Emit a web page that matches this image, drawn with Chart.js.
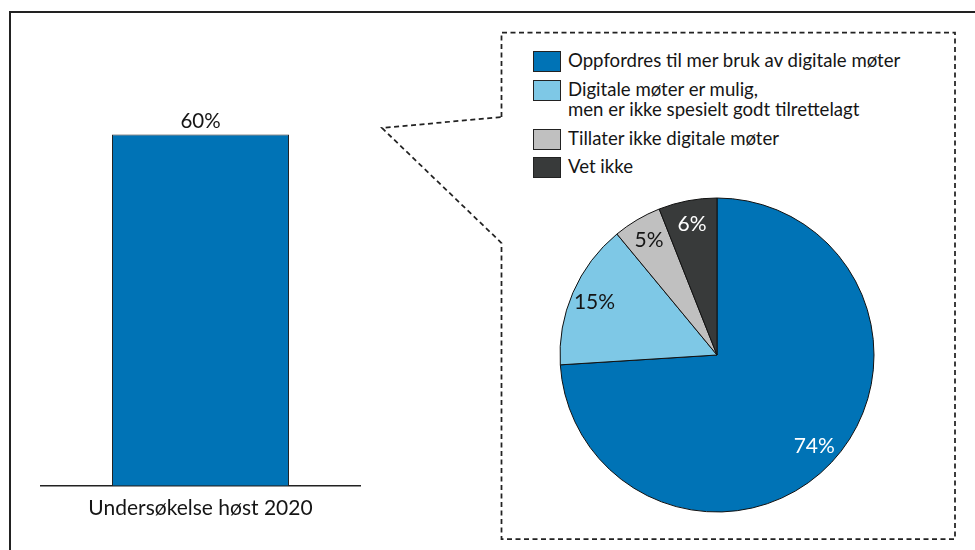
<!DOCTYPE html>
<html>
<head>
<meta charset="utf-8">
<script src="https://cdn.jsdelivr.net/npm/chart.js@4"></script>
<style>
  body { margin: 0; background: #fff; font-family: Lato, sans-serif; }
  #wrap { position: relative; width: 975px; height: 550px; overflow: hidden; }
  #frame { position: absolute; left: 9px; top: 11px; width: 1000px; height: 600px; border: 2px solid #222; }
  #barCanvas { position: absolute; left: 0; top: 0; }
  #pieCanvas { position: absolute; left: 557px; top: 195px; }
  #callout { position: absolute; left: 0; top: 0; }
  .leg { position: absolute; left: 533px; font-size: 18.6px; color: #151515; line-height: 20px; }
  .leg .sw { position: absolute; left: 0; width: 26px; height: 19px; border: 1.5px solid #222; }
  .leg .tx { position: absolute; left: 35px; white-space: nowrap; }
</style>
</head>
<body>
<div id="wrap">
  <div id="frame"></div>
  <svg id="callout" width="975" height="550">
    <path d="M501.5,117 L501.5,32.5 L955,32.5 L955,539 L501.5,539 L501.5,243 L382,128 L501.5,117"
          fill="none" stroke="#222" stroke-width="1.75" stroke-dasharray="5,3.5"/>
  </svg>
  <canvas id="barCanvas" width="400" height="550"></canvas>
  <canvas id="pieCanvas" width="320" height="320"></canvas>
  <div id="legend"></div>
</div>
<script>
// data
const barCategories = ["Undersøkelse høst 2020"];
const barValues = [60];

const pieLabels = [
  ["Oppfordres til mer bruk av digitale møter"],
  ["Digitale møter er mulig,", "men er ikke spesielt godt tilrettelagt"],
  ["Tillater ikke digitale møter"],
  ["Vet ikke"]
];
const pieValues = [74, 15, 5, 6];
const pieColors = ["#0073b6", "#7ec8e6", "#c0c0c0", "#383a3a"];
const pieLabelColors = ["#ffffff", "#151515", "#151515", "#ffffff"];

// legend rows (top of swatch)
const legendTops = [51, 80, 129, 157];

const legend = document.getElementById("legend");
pieLabels.forEach((lines, i) => {
  const row = document.createElement("div");
  row.className = "leg";
  row.style.top = legendTops[i] + "px";
  row.innerHTML = `<div class="sw" style="background:${pieColors[i]}"></div>` +
    `<div class="tx" style="top:-1px">${lines.join("<br>")}</div>`;
  legend.appendChild(row);
});

// Etikett over søylen
const barValuePlugin = {
  id: "barValue",
  afterDatasetsDraw(chart) {
    const ctx = chart.ctx;
    const meta = chart.getDatasetMeta(0);
    ctx.save();
    ctx.font = "20.5px Lato";
    ctx.fillStyle = "#151515";
    ctx.textAlign = "center";
    ctx.textBaseline = "bottom";
    meta.data.forEach((bar, i) => {
      ctx.fillText(barValues[i] + "%", bar.x, bar.y - 3);
    });
    ctx.restore();
  }
};

new Chart(document.getElementById("barCanvas"), {
  type: "bar",
  data: {
    labels: barCategories,
    datasets: [{
      data: barValues,
      backgroundColor: "#0073b6",
      borderColor: "#222",
      borderWidth: 1,
      barPercentage: 0.555,
      categoryPercentage: 1
    }]
  },
  options: {
    responsive: false,
    animation: false,
    layout: { padding: { left: 41, right: 40, top: 76, bottom: 19 } },
    plugins: { legend: { display: false }, tooltip: { enabled: false } },
    scales: {
      x: {
        grid: { display: false, drawTicks: false },
        border: { display: true, color: "#222", width: 1.5 },
        ticks: { color: "#151515", font: { family: "Lato", size: 21 }, padding: 10 }
      },
      y: { display: false, min: 0, max: 70 }
    }
  },
  plugins: [barValuePlugin]
});

// Prosenter inne i kakestykkene
const pieValuePlugin = {
  id: "pieValue",
  afterDatasetsDraw(chart) {
    const ctx = chart.ctx;
    const meta = chart.getDatasetMeta(0);
    ctx.save();
    ctx.font = "21px Lato";
    ctx.textAlign = "center";
    ctx.textBaseline = "middle";
    meta.data.forEach((arc, i) => {
      const p = arc.getProps(["x", "y", "startAngle", "endAngle", "outerRadius"], true);
      const mid = (p.startAngle + p.endAngle) / 2;
      const r = p.outerRadius * 0.85;
      ctx.fillStyle = pieLabelColors[i];
      ctx.fillText(pieValues[i] + "%", p.x + Math.cos(mid) * r, p.y + Math.sin(mid) * r);
    });
    ctx.restore();
  }
};

new Chart(document.getElementById("pieCanvas"), {
  type: "pie",
  data: {
    labels: pieLabels.map(l => l.join(" ")),
    datasets: [{
      data: pieValues,
      backgroundColor: pieColors,
      borderColor: "#111",
      borderWidth: 1
    }]
  },
  options: {
    responsive: false,
    animation: false,
    radius: 157,
    plugins: { legend: { display: false }, tooltip: { enabled: false } }
  },
  plugins: [pieValuePlugin]
});
</script>
</body>
</html>
